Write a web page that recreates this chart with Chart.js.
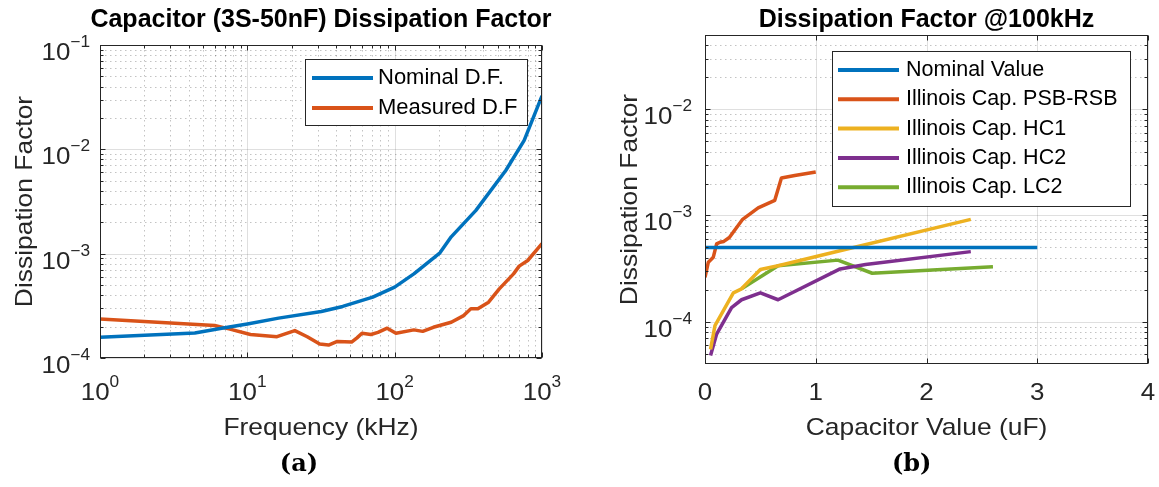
<!DOCTYPE html>
<html>
<head>
<meta charset="utf-8">
<script src="https://cdn.jsdelivr.net/npm/chart.js@4/dist/chart.umd.min.js"></script>
<style>
  html, body { margin: 0; padding: 0; background: #ffffff; }
  #wrap { position: relative; width: 1159px; height: 487px; overflow: hidden; }
  #ca { position: absolute; left: 0; top: 0; }
  #cb { position: absolute; left: 580px; top: 0; }
</style>
</head>
<body>
<div id="wrap">
  <canvas id="ca" width="580" height="487"></canvas>
  <canvas id="cb" width="579" height="487"></canvas>
</div>
<script>
// ---- (a) Capacitor 3S-50nF: dissipation factor versus frequency ----
const freqNominal = [1, 4.4, 6.7, 10, 16.3, 31.8, 44.4, 71, 100, 135, 203, 242, 356, 569, 757, 1000];
const dfNominal   = [1.58e-4, 1.74e-4, 1.93e-4, 2.12e-4, 2.41e-4, 2.79e-4, 3.12e-4, 3.83e-4,
                     4.78e-4, 6.4e-4, 1.02e-3, 1.45e-3, 2.6e-3, 6.3e-3, 1.22e-2, 3.26e-2];

const freqMeasured = [1, 6.0, 7.5, 10.5, 15.9, 21, 25.5, 31, 35.6, 40.8, 51, 55.5, 60, 69, 77, 89,
                      102, 135, 155, 183, 242, 294, 329, 367, 434, 513, 641, 700, 800, 1000];
const dfMeasured   = [2.37e-4, 2.05e-4, 1.9e-4, 1.68e-4, 1.6e-4, 1.83e-4, 1.6e-4, 1.36e-4, 1.33e-4,
                      1.44e-4, 1.42e-4, 1.56e-4, 1.73e-4, 1.68e-4, 1.76e-4, 1.93e-4, 1.73e-4, 1.86e-4,
                      1.8e-4, 1.97e-4, 2.2e-4, 2.55e-4, 2.96e-4, 2.96e-4, 3.43e-4, 4.6e-4, 6.4e-4,
                      7.6e-4, 8.6e-4, 1.25e-3];

const freqTicks = [1, 10, 100, 1000];
const dfTicksA  = [1e-4, 1e-3, 1e-2, 1e-1];

// ---- (b) Dissipation factor at 100 kHz versus capacitance ----
const capNominal = [0, 3];
const dfNominalB = [5e-4, 5e-4];

const capPsbRsb = [0, 0.03, 0.075, 0.105, 0.135, 0.17, 0.22, 0.34, 0.48, 0.63, 0.69, 0.81, 1.0];
const dfPsbRsb  = [2.62e-4, 3.63e-4, 4.05e-4, 5.4e-4, 5.6e-4, 5.7e-4, 6.2e-4, 9.2e-4, 1.18e-3,
                   1.39e-3, 2.25e-3, 2.38e-3, 2.57e-3];

const capHC1 = [0.05, 0.09, 0.256, 0.33, 0.5, 0.66, 1.2, 2.4];
const dfHC1  = [5.5e-5, 9.2e-5, 1.87e-4, 2.04e-4, 3.1e-4, 3.37e-4, 4.6e-4, 9.2e-4];

const capHC2 = [0.05, 0.105, 0.24, 0.33, 0.5, 0.66, 1.22, 1.45, 2.4];
const dfHC2  = [4.8e-5, 7.65e-5, 1.36e-4, 1.61e-4, 1.87e-4, 1.61e-4, 3.14e-4, 3.45e-4, 4.57e-4];

const capLC2 = [0.33, 0.66, 1.2, 1.51, 2.6];
const dfLC2  = [2.04e-4, 3.37e-4, 3.8e-4, 2.86e-4, 3.3e-4];

const capTicks = [0, 1, 2, 3, 4];
const dfTicksB = [1e-4, 1e-3, 1e-2];

// MATLAB default line colours
const C_BLUE = '#0072BD', C_ORANGE = '#D95319', C_YELLOW = '#EDB120',
      C_PURPLE = '#7E2F8E', C_GREEN = '#77AC30';

const SANS = '"Liberation Sans", Arial, Helvetica, sans-serif';
const AXIS_INK = '#262626';

function pts(xs, ys) { return xs.map((x, i) => ({ x: x, y: ys[i] })); }

function logMinors(min, max) {
  const out = [];
  for (let d = Math.floor(Math.log10(min)) - 1; d <= Math.ceil(Math.log10(max)); d++) {
    for (let k = 2; k <= 9; k++) {
      const v = k * Math.pow(10, d);
      if (v > min * 1.0001 && v < max * 0.9999) out.push(v);
    }
  }
  return out;
}

// text with optional horizontal stretch
function txt(ctx, s, x, y, size, color, align, opts) {
  opts = opts || {};
  const sx = opts.sx || 1;
  ctx.save();
  ctx.font = (opts.weight || 'normal') + ' ' + size + 'px ' + (opts.family || SANS);
  ctx.fillStyle = color;
  ctx.textBaseline = opts.baseline || 'alphabetic';
  ctx.textAlign = 'left';
  const w = ctx.measureText(s).width * sx;
  const x0 = align === 'center' ? x - w / 2 : (align === 'right' ? x - w : x);
  ctx.translate(x0, y);
  ctx.scale(sx, 1);
  ctx.fillText(s, 0, 0);
  ctx.restore();
  return w;
}

function textWidth(ctx, s, size, sx) {
  ctx.save();
  ctx.font = 'normal ' + size + 'px ' + SANS;
  const w = ctx.measureText(s).width * (sx || 1);
  ctx.restore();
  return w;
}

// "10" with a raised exponent
function pow10(ctx, v, x, y, align, st) {
  const e = String(Math.round(Math.log10(v))).replace('-', '\u2212');
  const wb = textWidth(ctx, '10', st.base, st.sx);
  const we = textWidth(ctx, e, st.exp, st.sx);
  const w = wb + we;
  const x0 = align === 'center' ? x - w / 2 : (align === 'right' ? x - w : x);
  txt(ctx, '10', x0, y, st.base, AXIS_INK, 'left', { sx: st.sx });
  txt(ctx, e, x0 + wb, y - st.raise, st.exp, AXIS_INK, 'left', { sx: st.sx });
}

const matlabAxes = {
  id: 'matlabAxes',
  beforeDatasetsDraw(chart, args, o) {
    const ctx = chart.ctx, a = chart.chartArea, xs = chart.scales.x, ys = chart.scales.y;
    ctx.save();
    ctx.lineWidth = 1;
    const vline = (v) => { const p = Math.round(xs.getPixelForValue(v)) + 0.5;
      ctx.beginPath(); ctx.moveTo(p, a.top); ctx.lineTo(p, a.bottom); ctx.stroke(); };
    const hline = (v) => { const p = Math.round(ys.getPixelForValue(v)) + 0.5;
      ctx.beginPath(); ctx.moveTo(a.left, p); ctx.lineTo(a.right, p); ctx.stroke(); };

    // minor grid, dotted
    ctx.strokeStyle = 'rgba(38,38,38,0.28)';
    ctx.setLineDash([1.5, 3.5]);
    if (o.xLog) logMinors(xs.min, xs.max).forEach(vline);
    if (o.yLog) logMinors(ys.min, ys.max).forEach(hline);

    // major grid, solid
    ctx.setLineDash([]);
    ctx.strokeStyle = 'rgba(38,38,38,0.15)';
    o.xTicks.forEach(vline);
    o.yTicks.forEach(hline);
    ctx.restore();
  },
  afterDatasetsDraw(chart, args, o) {
    const ctx = chart.ctx, a = chart.chartArea, xs = chart.scales.x, ys = chart.scales.y;
    ctx.save();
    // axes box
    ctx.strokeStyle = AXIS_INK;
    ctx.lineWidth = 1;
    const L = Math.round(a.left) + 0.5, R = Math.round(a.right) - 0.5;
    const T = Math.round(a.top) + 0.5, B = Math.round(a.bottom) - 0.5;
    ctx.strokeRect(L, T, R - L, B - T);

    // inward ticks on all four sides
    const xt = (v, len) => { const p = Math.round(xs.getPixelForValue(v)) + 0.5;
      ctx.beginPath(); ctx.moveTo(p, B); ctx.lineTo(p, B - len);
      ctx.moveTo(p, T); ctx.lineTo(p, T + len); ctx.stroke(); };
    const yt = (v, len) => { const p = Math.round(ys.getPixelForValue(v)) + 0.5;
      ctx.beginPath(); ctx.moveTo(L, p); ctx.lineTo(L + len, p);
      ctx.moveTo(R, p); ctx.lineTo(R - len, p); ctx.stroke(); };
    if (o.xLog) logMinors(xs.min, xs.max).forEach(v => xt(v, 3));
    if (o.yLog) logMinors(ys.min, ys.max).forEach(v => yt(v, 3));
    o.xTicks.forEach(v => xt(v, 5));
    o.yTicks.forEach(v => yt(v, 5));
    ctx.restore();

    const st = { base: 24, exp: 16, raise: 13, sx: 1.08 };
    // x tick labels
    o.xTicks.forEach(v => {
      const p = xs.getPixelForValue(v);
      if (o.xLog) pow10(ctx, v, p, a.bottom + 42, 'center', st);
      else txt(ctx, String(v), p, a.bottom + 36, 24, AXIS_INK, 'center', { sx: st.sx });
    });
    // y tick labels
    o.yTicks.forEach(v => {
      const p = ys.getPixelForValue(v);
      pow10(ctx, v, a.left - o.yLabelGap, p + 15, 'right', st);
    });

    const cx = (a.left + a.right) / 2;
    // axis titles
    txt(ctx, o.xTitle, cx, 435, 24, AXIS_INK, 'center', { sx: 1.1 });
    ctx.save();
    ctx.translate(a.left - o.yTitleOffset, (a.top + a.bottom) / 2);
    ctx.rotate(-Math.PI / 2);
    txt(ctx, o.yTitle, 0, 0, 24, AXIS_INK, 'center', { sx: 1.1 });
    ctx.restore();

    // title
    txt(ctx, o.title, cx, 27, 25, '#000000', 'center', { weight: 'bold' });
    // caption
    txt(ctx, o.caption, o.captionX, 471, 24, '#000000', 'center',
        { weight: 'bold', family: '"DejaVu Serif", "Liberation Serif", serif' });

    // legend
    const lg = o.legend;
    ctx.save();
    ctx.fillStyle = '#ffffff';
    ctx.fillRect(lg.box[0], lg.box[1], lg.box[2] - lg.box[0], lg.box[3] - lg.box[1]);
    ctx.strokeStyle = AXIS_INK;
    ctx.lineWidth = 1;
    ctx.strokeRect(lg.box[0] + 0.5, lg.box[1] + 0.5, lg.box[2] - lg.box[0], lg.box[3] - lg.box[1]);
    chart.data.datasets.forEach((ds, i) => {
      const y = lg.rows[i];
      ctx.strokeStyle = ds.borderColor;
      ctx.lineWidth = 4;
      ctx.beginPath(); ctx.moveTo(lg.lineX[0], y); ctx.lineTo(lg.lineX[1], y); ctx.stroke();
      txt(ctx, ds.label, lg.textX, y, lg.font, '#000000', 'left', { baseline: 'middle' });
    });
    ctx.restore();
  }
};

function lineDs(label, xs, ys, color) {
  return {
    label: label, data: pts(xs, ys), borderColor: color, backgroundColor: color,
    borderWidth: 3.5, pointRadius: 0, tension: 0, fill: false,
    borderJoinStyle: 'round', borderCapStyle: 'butt'
  };
}

function baseOptions(padding, xScale, yScale, axesOpts) {
  return {
    responsive: false, animation: false, devicePixelRatio: 1,
    layout: { padding: padding },
    scales: { x: xScale, y: yScale },
    plugins: { legend: { display: false }, tooltip: { enabled: false }, title: { display: false },
               matlabAxes: axesOpts },
    elements: { line: { borderWidth: 3.5 } }
  };
}

new Chart(document.getElementById('ca'), {
  type: 'line',
  data: { datasets: [
    lineDs('Nominal D.F.', freqNominal, dfNominal, C_BLUE),
    lineDs('Measured D.F', freqMeasured, dfMeasured, C_ORANGE)
  ] },
  options: baseOptions(
    { left: 100, right: 38, top: 45, bottom: 129 },
    { type: 'logarithmic', min: 1, max: 1000, display: false },
    { type: 'logarithmic', min: 1e-4, max: 1e-1, display: false },
    { xLog: true, yLog: true, xTicks: freqTicks, yTicks: dfTicksA, yLabelGap: 10, yTitleOffset: 68,
      title: 'Capacitor (3S-50nF) Dissipation Factor', xTitle: 'Frequency (kHz)',
      yTitle: 'Dissipation Factor', caption: '(a)', captionX: 299,
      legend: { box: [305, 59, 527, 125], rows: [78, 108], lineX: [312, 373], textX: 378, font: 22 } }
  ),
  plugins: [matlabAxes]
});

new Chart(document.getElementById('cb'), {
  type: 'line',
  data: { datasets: [
    lineDs('Nominal Value', capNominal, dfNominalB, C_BLUE),
    lineDs('Illinois Cap. PSB-RSB', capPsbRsb, dfPsbRsb, C_ORANGE),
    lineDs('Illinois Cap. HC1', capHC1, dfHC1, C_YELLOW),
    lineDs('Illinois Cap. HC2', capHC2, dfHC2, C_PURPLE),
    lineDs('Illinois Cap. LC2', capLC2, dfLC2, C_GREEN)
  ] },
  options: baseOptions(
    { left: 125, right: 11, top: 35, bottom: 123 },
    { type: 'linear', min: 0, max: 4, display: false },
    { type: 'logarithmic', min: 4e-5, max: 5e-2, display: false },
    { xLog: false, yLog: true, xTicks: capTicks, yTicks: dfTicksB, yLabelGap: 13, yTitleOffset: 68,
      title: 'Dissipation Factor @100kHz', xTitle: 'Capacitor Value (uF)',
      yTitle: 'Dissipation Factor', caption: '(b)', captionX: 331.7,
      legend: { box: [252, 51, 550, 206], rows: [70, 99.3, 128.6, 158, 187.3],
                lineX: [258, 319], textX: 326, font: 21.5 } }
  ),
  plugins: [matlabAxes]
});
</script>
</body>
</html>
